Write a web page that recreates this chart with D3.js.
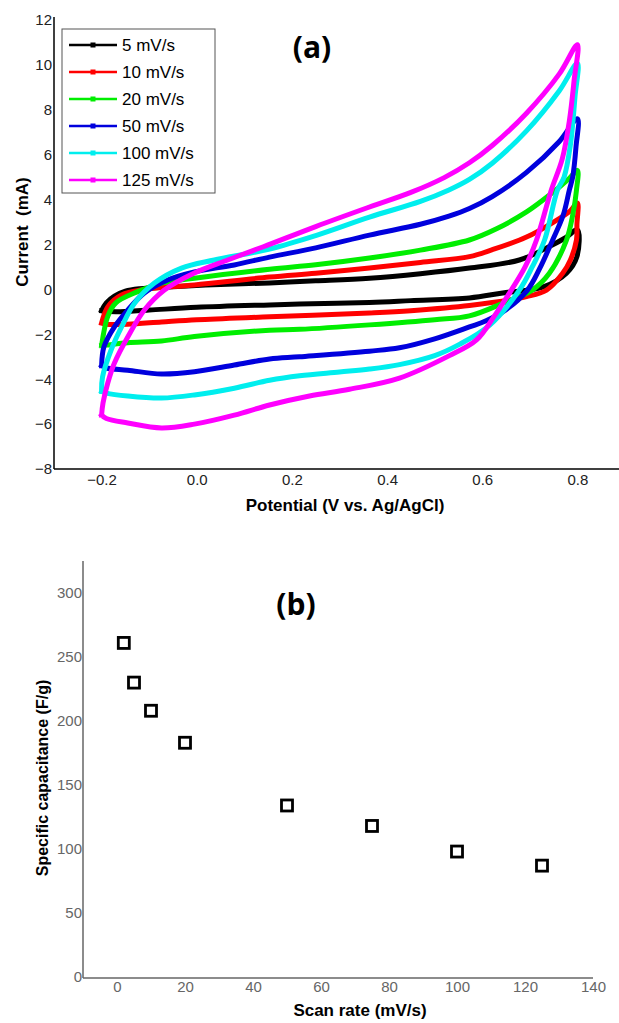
<!DOCTYPE html>
<html><head><meta charset="utf-8">
<script src="https://cdn.jsdelivr.net/npm/d3@7"></script>
<style>
html,body{margin:0;padding:0;background:#fff;}
svg{display:block;font-family:"Liberation Sans",Arial,sans-serif;}
</style></head>
<body><svg id="c" width="619" height="1023"></svg>
<script>
// ---------- Panel (a) data: CV loops, [potential V, current mA] ----------
const scanLabels = ["5 mV/s","10 mV/s","20 mV/s","50 mV/s","100 mV/s","125 mV/s"];
const scanColors = ["#000000","#ff0000","#00ee00","#0000dd","#00eeee","#ff00ff"];

const fwd5 = [[-0.2,-0.95],[-0.19,-0.6],[-0.173,-0.3],[-0.15,-0.08],[-0.12,0.03],[-0.05,0.12],[0.05,0.22],[0.153,0.29],[0.25,0.38],[0.363,0.5],[0.47,0.7],[0.573,0.95],[0.678,1.31],[0.74,1.9],[0.775,2.3],[0.8,2.65]];
const rev5 = [[0.8,2.65],[0.799,1.46],[0.777,0.72],[0.727,0.1],[0.643,-0.16],[0.573,-0.38],[0.45,-0.5],[0.363,-0.58],[0.216,-0.65],[0.153,-0.69],[0.0,-0.8],[-0.1,-0.92],[-0.17,-1.0],[-0.2,-0.95]];

const fwd10 = [[-0.2,-1.5],[-0.187,-0.78],[-0.158,-0.25],[-0.11,0.0],[-0.005,0.2],[0.153,0.55],[0.25,0.72],[0.363,0.95],[0.47,1.2],[0.573,1.46],[0.62,1.76],[0.693,2.33],[0.75,3.0],[0.785,3.5],[0.8,3.85]];
const rev10 = [[0.8,3.85],[0.799,2.9],[0.798,2.2],[0.785,1.3],[0.769,0.72],[0.735,-0.03],[0.693,-0.32],[0.573,-0.72],[0.45,-0.95],[0.363,-1.05],[0.153,-1.22],[0.0,-1.35],[-0.074,-1.45],[-0.145,-1.55],[-0.19,-1.55],[-0.2,-1.5]];

const fwd20 = [[-0.2,-2.5],[-0.187,-1.2],[-0.17,-0.6],[-0.124,-0.1],[-0.074,0.28],[-0.005,0.5],[0.153,0.9],[0.25,1.1],[0.363,1.4],[0.47,1.75],[0.573,2.2],[0.63,2.7],[0.693,3.45],[0.741,4.2],[0.783,4.95],[0.8,5.3]];
const rev20 = [[0.8,5.3],[0.798,4.42],[0.79,3.3],[0.777,2.2],[0.741,0.72],[0.705,-0.03],[0.643,-0.62],[0.573,-1.18],[0.5,-1.35],[0.363,-1.58],[0.216,-1.78],[0.153,-1.82],[-0.005,-2.1],[-0.074,-2.3],[-0.145,-2.38],[-0.19,-2.48],[-0.2,-2.5]];

const fwd50 = [[-0.2,-3.4],[-0.195,-2.56],[-0.173,-1.67],[-0.145,-0.92],[-0.11,-0.16],[-0.061,0.42],[-0.005,0.78],[0.079,1.09],[0.153,1.44],[0.25,1.85],[0.363,2.42],[0.47,2.9],[0.53,3.26],[0.573,3.6],[0.621,4.13],[0.693,5.21],[0.762,6.59],[0.8,7.6]];
const rev50 = [[0.8,7.6],[0.797,6.35],[0.79,5.0],[0.783,4.42],[0.77,3.3],[0.748,2.2],[0.72,0.9],[0.695,-0.03],[0.65,-0.9],[0.608,-1.4],[0.573,-1.67],[0.5,-2.2],[0.426,-2.6],[0.363,-2.75],[0.216,-3.0],[0.153,-3.1],[0.079,-3.37],[-0.005,-3.67],[-0.074,-3.77],[-0.145,-3.6],[-0.19,-3.5],[-0.2,-3.4]];

const fwd100 = [[-0.2,-4.55],[-0.198,-3.9],[-0.18,-2.7],[-0.158,-1.67],[-0.13,-0.6],[-0.089,0.28],[-0.032,0.95],[0.037,1.31],[0.153,1.8],[0.25,2.4],[0.363,3.22],[0.47,3.92],[0.53,4.43],[0.573,4.9],[0.621,5.62],[0.693,7.06],[0.762,8.85],[0.8,10.07]];
const rev100 = [[0.8,10.07],[0.795,8.6],[0.785,6.4],[0.772,5.0],[0.758,4.42],[0.731,2.2],[0.705,1.0],[0.678,-0.03],[0.615,-1.6],[0.552,-2.45],[0.5,-2.95],[0.426,-3.35],[0.363,-3.55],[0.3,-3.68],[0.216,-3.85],[0.153,-4.05],[0.079,-4.4],[-0.005,-4.7],[-0.074,-4.84],[-0.145,-4.75],[-0.19,-4.62],[-0.2,-4.55]];

const fwd125 = [[-0.2,-5.6],[-0.197,-5.06],[-0.187,-4.17],[-0.173,-3.28],[-0.145,-2.12],[-0.11,-0.92],[-0.068,-0.03],[-0.005,0.73],[0.065,1.31],[0.14,1.9],[0.25,2.8],[0.363,3.67],[0.45,4.32],[0.52,4.98],[0.573,5.64],[0.621,6.41],[0.693,7.85],[0.762,9.6],[0.8,10.9]];
const rev125 = [[0.8,10.9],[0.793,9.3],[0.783,7.5],[0.768,5.8],[0.745,4.42],[0.714,2.2],[0.69,1.0],[0.661,-0.03],[0.625,-1.2],[0.588,-2.25],[0.531,-2.95],[0.426,-3.95],[0.321,-4.45],[0.237,-4.75],[0.153,-5.15],[0.079,-5.6],[-0.005,-6.0],[-0.074,-6.17],[-0.145,-5.95],[-0.19,-5.75],[-0.2,-5.6]];

const cvForward = [fwd5, fwd10, fwd20, fwd50, fwd100, fwd125];
const cvReverse = [rev5, rev10, rev20, rev50, rev100, rev125];

const potTicks = [-0.2, 0.0, 0.2, 0.4, 0.6, 0.8];
const curTicks = [-8, -6, -4, -2, 0, 2, 4, 6, 8, 10, 12];

// ---------- Panel (b) data ----------
const scanRates = [2, 5, 10, 20, 50, 75, 100, 125];
const capacitance = [261, 230, 208, 183, 134, 118, 98, 87];
const rateTicks = [0, 20, 40, 60, 80, 100, 120, 140];
const capTicks = [0, 50, 100, 150, 200, 250, 300];

const svg = d3.select("#c");

// ================= Panel (a) =================
const xA = d3.scaleLinear().domain([-0.3, 0.9]).range([54, 625]);
const yA = d3.scaleLinear().domain([-8, 12]).range([469, 20]);

const gA = svg.append("g");
const line = d3.line().x(d => xA(d[0])).y(d => yA(d[1])).curve(d3.curveCatmullRom.alpha(0.5));

cvForward.forEach((f, i) => {
  const pts = f.concat(cvReverse[i].slice(1));
  gA.append("path").attr("d", line(pts))
    .attr("fill", "none").attr("stroke", scanColors[i])
    .attr("stroke-width", 5).attr("stroke-linejoin", "round").attr("stroke-linecap", "square");
});

// axes
const axYA = gA.append("g").attr("transform", "translate(54,0)")
  .call(d3.axisLeft(yA).tickValues(curTicks).tickSize(0).tickPadding(2).tickFormat(d3.format("d")));
axYA.select(".domain").attr("stroke", "#000").attr("stroke-width", 1.5).attr("d", "M0,17V469");
axYA.selectAll("text").attr("font-size", 15).attr("fill", "#222").attr("font-family", "Liberation Sans, Arial");

const axXA = gA.append("g").attr("transform", "translate(0,469)")
  .call(d3.axisBottom(xA).tickValues(potTicks).tickSize(0).tickPadding(5).tickFormat(d3.format(".1f")));
axXA.select(".domain").attr("stroke", "#000").attr("stroke-width", 1.5).attr("d", "M54,0H619");
axXA.selectAll("text").attr("font-size", 15).attr("fill", "#222").attr("font-family", "Liberation Sans, Arial");

gA.append("text").attr("x", 345).attr("y", 511).attr("text-anchor", "middle")
  .attr("font-weight", "bold").attr("font-size", 17).text("Potential (V vs. Ag/AgCl)");
gA.append("text").attr("transform", "translate(28,232) rotate(-90)").attr("text-anchor", "middle")
  .attr("font-weight", "bold").attr("font-size", 17).style("white-space", "pre").text("Current  (mA)");
gA.append("text").attr("x", 312).attr("y", 58).attr("text-anchor", "middle")
  .attr("font-weight", "bold").attr("font-size", 30).attr("font-family", "Open Sans, Liberation Sans, Arial").text("(a)");

// legend
const leg = gA.append("g");
leg.append("rect").attr("x", 62).attr("y", 29).attr("width", 153).attr("height", 164)
  .attr("fill", "#fff").attr("stroke", "#555").attr("stroke-width", 1);
scanLabels.forEach((lab, i) => {
  const yy = 45 + i * 27;
  leg.append("line").attr("x1", 69).attr("x2", 117).attr("y1", yy).attr("y2", yy)
    .attr("stroke", scanColors[i]).attr("stroke-width", 2.5);
  leg.append("rect").attr("x", 90.5).attr("y", yy - 2.5).attr("width", 5).attr("height", 5).attr("fill", scanColors[i]);
  leg.append("text").attr("x", 122).attr("y", yy + 6).attr("font-size", 17).text(lab);
});

// ================= Panel (b) =================
const xB = d3.scaleLinear().domain([-10, 140]).range([83, 593]);
const yB = d3.scaleLinear().domain([0, 300]).range([977, 593]);

const gB = svg.append("g");
const axYB = gB.append("g").attr("transform", "translate(83,0)")
  .call(d3.axisLeft(yB).tickValues(capTicks).tickSize(0).tickPadding(1));
axYB.select(".domain").attr("stroke", "#666").attr("stroke-width", 1.5).attr("d", "M0,561V978");
axYB.selectAll("text").attr("font-size", 15).attr("fill", "#666").attr("font-family", "Liberation Sans, Arial");

const axXB = gB.append("g").attr("transform", "translate(0,978)")
  .call(d3.axisBottom(xB).tickValues(rateTicks).tickSize(0).tickPadding(3));
axXB.select(".domain").attr("stroke", "#666").attr("stroke-width", 1.5).attr("d", "M83,0H593");
axXB.selectAll("text").attr("font-size", 15).attr("fill", "#666").attr("font-family", "Liberation Sans, Arial");

gB.selectAll("rect.pt").data(scanRates).enter().append("rect").attr("class", "pt")
  .attr("x", (d) => xB(d) - 5.5).attr("y", (d, i) => yB(capacitance[i]) - 5.5)
  .attr("width", 11).attr("height", 11).attr("fill", "#fff").attr("stroke", "#000").attr("stroke-width", 2.8);

gB.append("text").attr("x", 360).attr("y", 1016).attr("text-anchor", "middle")
  .attr("font-weight", "bold").attr("font-size", 17).text("Scan rate (mV/s)");
gB.append("text").attr("transform", "translate(48,778) rotate(-90)").attr("text-anchor", "middle")
  .attr("font-weight", "bold").attr("font-size", 16).text("Specific capacitance (F/g)");
gB.append("text").attr("x", 296).attr("y", 615).attr("text-anchor", "middle")
  .attr("font-weight", "bold").attr("font-size", 30).attr("font-family", "Open Sans, Liberation Sans, Arial").text("(b)");
</script></body></html>
